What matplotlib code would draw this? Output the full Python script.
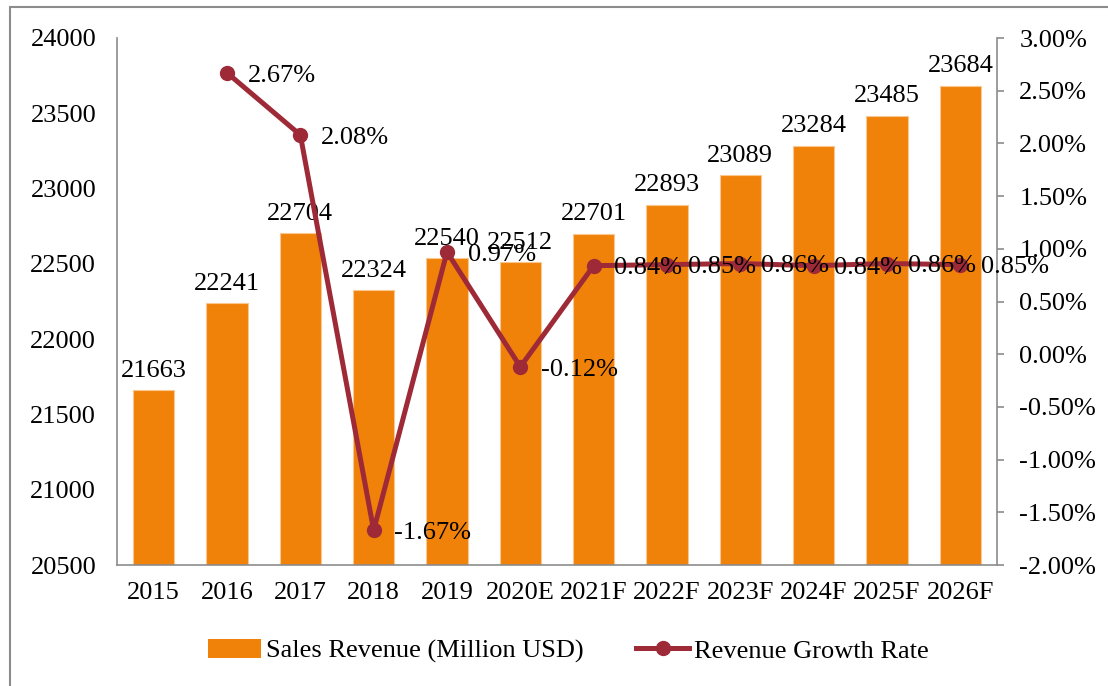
import matplotlib.pyplot as plt
from matplotlib.patches import Rectangle
from matplotlib.lines import Line2D
from matplotlib.patches import Patch

plt.rcParams['font.family'] = ['Liberation Serif', 'DejaVu Serif']
plt.rcParams['font.size'] = 19

years = ["2015", "2016", "2017", "2018", "2019", "2020E", "2021F",
         "2022F", "2023F", "2024F", "2025F", "2026F"]
revenue = [21663, 22241, 22704, 22324, 22540, 22512, 22701,
           22893, 23089, 23284, 23485, 23684]
# growth rate in percent, none for the first year
growth = [None, 2.67, 2.08, -1.67, 0.97, -0.12, 0.84,
          0.85, 0.86, 0.84, 0.86, 0.85]

bar_color = "#F0820A"
line_color = "#9E2A38"
spine_color = "#8C8C8C"

fig = plt.figure(figsize=(11.08, 6.86), dpi=100)
ax = fig.add_axes([117 / 1108, 1 - 565 / 686, 880 / 1108, 527 / 686])
ax2 = ax.twinx()

x = list(range(len(years)))
ax.bar(x, revenue, width=0.56, color=bar_color, edgecolor="#F8C890",
       linewidth=0.8, zorder=2)
for xi, v in zip(x, revenue):
    ax.annotate(str(v), (xi, v), xytext=(0, 6), textcoords="offset points",
                ha="center", va="bottom")

ax.set_xlim(-0.5, len(years) - 0.5)
ax.set_ylim(20500, 24000)
ax.set_yticks(range(20500, 24001, 500))
ax.set_xticks(x)
ax.set_xticklabels(years)
ax.tick_params(axis="y", length=0, pad=15)
ax.tick_params(axis="x", length=0, pad=12)

gx = [xi for xi, g in zip(x, growth) if g is not None]
gy = [g for g in growth if g is not None]
ax2.plot(gx, gy, color=line_color, linewidth=3.6, marker="o",
         markersize=10, zorder=3)
for xi, g in zip(gx, gy):
    ax2.annotate(f"{g:.2f}%", (xi, g), xytext=(15, -2),
                 textcoords="offset points", ha="left", va="center")
ax2.set_ylim(-2, 3)
ax2.set_yticks([i * 0.5 for i in range(-4, 7)])
ax2.set_yticklabels([f"{i * 0.5:.2f}%" for i in range(-4, 7)])
ax2.tick_params(axis="y", length=5, width=1.2, color=spine_color,
                direction="out", pad=11)

for a in (ax, ax2):
    a.spines["top"].set_visible(False)
    for s in ("left", "right", "bottom"):
        a.spines[s].set_color(spine_color)
        a.spines[s].set_linewidth(1.2)
ax.spines["right"].set_visible(False)
ax2.spines["left"].set_visible(False)
ax2.spines["bottom"].set_visible(False)

handles = [Patch(facecolor=bar_color, edgecolor="none"),
           Line2D([0], [0], color=line_color, linewidth=3.6, marker="o",
                  markersize=10)]
labels = ["Sales Revenue (Million USD)", "Revenue Growth Rate"]
fig.legend(handles, labels, loc="center", bbox_to_anchor=(0.513, 1 - 651 / 686),
           ncol=2, frameon=False, handlelength=2.0, columnspacing=2.0,
           handletextpad=0.2)

fig.patches.append(Rectangle((10 / 1108, -0.02), 1.0, 1 - 7 / 686 + 0.02,
                             transform=fig.transFigure, fill=False,
                             edgecolor=spine_color, linewidth=1.5))

fig.savefig("out.png", dpi=100)
